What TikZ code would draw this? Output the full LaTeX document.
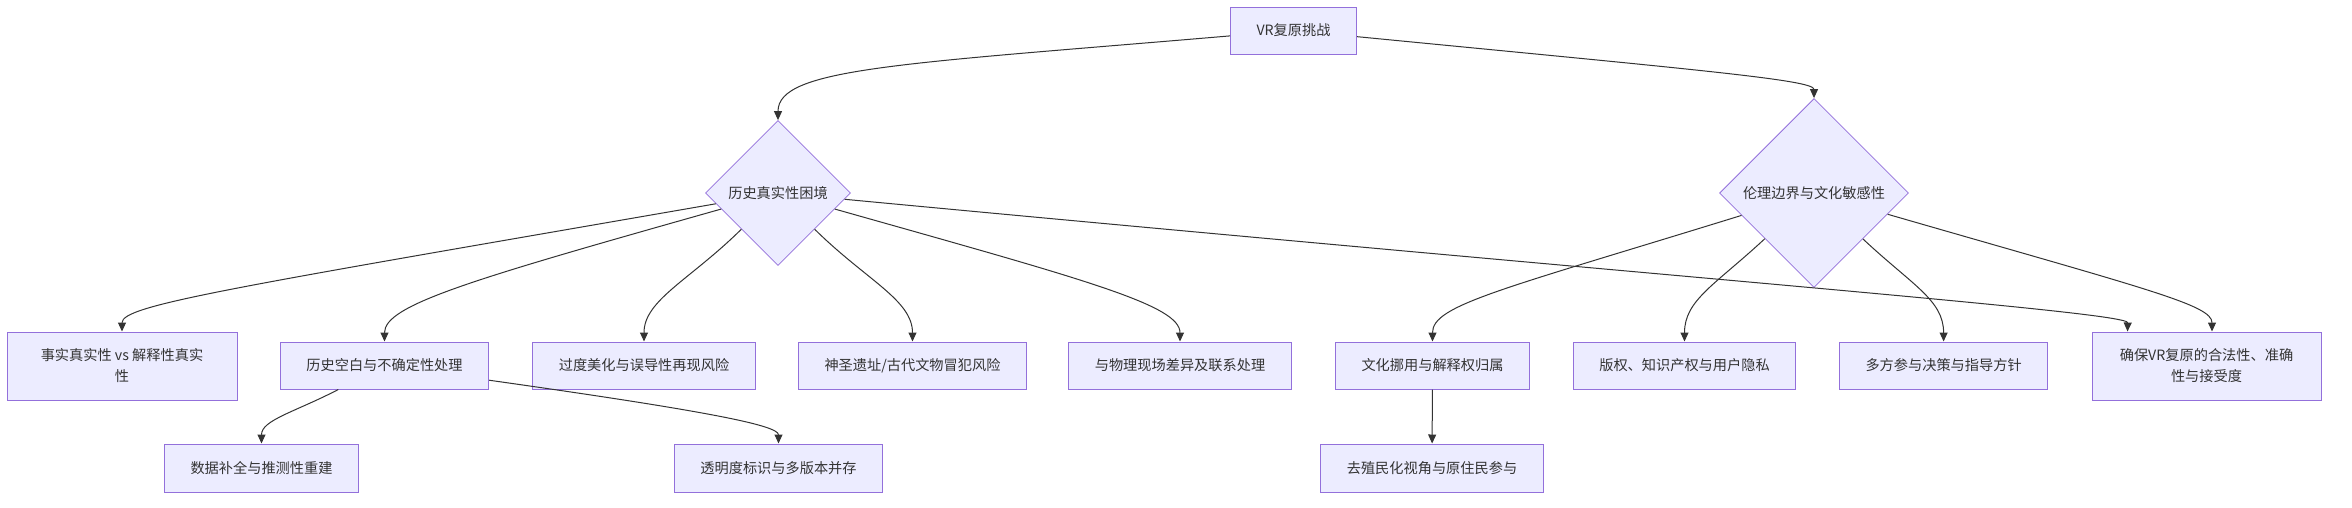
\documentclass[tikz,border=0pt]{standalone}
\usepackage{fontspec}
\setmainfont{Noto Sans CJK SC}
\usetikzlibrary{shapes.geometric, arrows.meta}

\definecolor{nodefill}{HTML}{ECECFF}
\definecolor{nodeline}{HTML}{9370DB}
\definecolor{edgeline}{HTML}{333333}

\begin{document}
\begin{tikzpicture}[x=1pt, y=1pt, font=\fontsize{14.2}{21}\selectfont, text=edgeline,
    box/.style={rectangle, draw=nodeline, fill=nodefill, line width=1pt, inner xsep=26pt, minimum height=47pt, align=center},
    decision/.style={diamond, aspect=1, draw=nodeline, fill=nodefill, line width=0.8pt, inner sep=0pt},
    link/.style={draw=edgeline, line width=1pt, -{Triangle[length=9pt, width=8pt]}}]
        \useasboundingbox (0,0) rectangle (2352,-507);

        \node[box]                         (root)   at (1293.5,-30.5) {VR复原挑战};
        \node[decision, minimum size=145pt] (hist)  at (778,-193)     {历史真实性困境};
        \node[decision, minimum size=189pt] (eth)   at (1814,-193)    {伦理边界与文化敏感性};

        \node[box, minimum width=230pt, minimum height=68pt] (fact) at (122,-366) {事实真实性 vs 解释性真实\\性};
        \node[box] (gap)    at (384.5,-365.5)  {历史空白与不确定性处理};
        \node[box] (beaut)  at (644,-365.5)    {过度美化与误导性再现风险};
        \node[box] (sacred) at (912.5,-365.5)  {神圣遗址/古代文物冒犯风险};
        \node[box] (phys)   at (1180,-365.5)   {与物理现场差异及联系处理};
        \node[box] (approp) at (1432.5,-365.5) {文化挪用与解释权归属};
        \node[box] (copy)   at (1684.5,-365.5) {版权、知识产权与用户隐私};
        \node[box] (multi)  at (1943.6,-365.5) {多方参与决策与指导方针};
        \node[box, minimum width=229pt, minimum height=68pt] (ensure) at (2206.5,-366) {确保VR复原的合法性、准确\\性与接受度};

        \node[box, minimum height=48pt] (data)   at (261.5,-468) {数据补全与推测性重建};
        \node[box, minimum height=48pt] (transp) at (778.5,-468) {透明度标识与多版本并存};
        \node[box, minimum height=48pt] (decol)  at (1432,-468)  {去殖民化视角与原住民参与};

        \draw[link] (root) .. controls (900,-64) and (778,-68) .. (hist.north);
        \draw[link] (root) .. controls (1700,-70) and (1814,-80) .. (eth.north);

        \draw[link] (hist) .. controls (230,-288) and (122,-305) .. (fact.north);
        \draw[link] (hist) .. controls (470,-280) and (384.5,-305) .. (gap.north);
        \draw[link] (hist) .. controls (690,-280) and (644,-300) .. (beaut.north);
        \draw[link] (hist) .. controls (866,-280) and (912.5,-300) .. (sacred.north);
        \draw[link] (hist) .. controls (1086,-280) and (1180,-305) .. (phys.north);
        \draw[link] (hist) .. controls (1700,-280) and (2128,-312) .. ([xshift=36pt]ensure.north west);

        \draw[link] (eth) .. controls (1500,-290) and (1432.5,-305) .. (approp.north);
        \draw[link] (eth) .. controls (1715,-285) and (1684.5,-300) .. (copy.north);
        \draw[link] (eth) .. controls (1912,-285) and (1943.6,-300) .. (multi.north);
        \draw[link] (eth) .. controls (2150,-290) and (2212,-305) .. ([xshift=5.5pt]ensure.north);

        \draw[link] (gap) .. controls (295,-412) and (261.5,-420) .. (data.north);
        \draw[link] (gap) .. controls (700,-410) and (778.5,-425) .. (transp.north);
        \draw[link] (approp) -- (decol);
\end{tikzpicture}
\end{document}
